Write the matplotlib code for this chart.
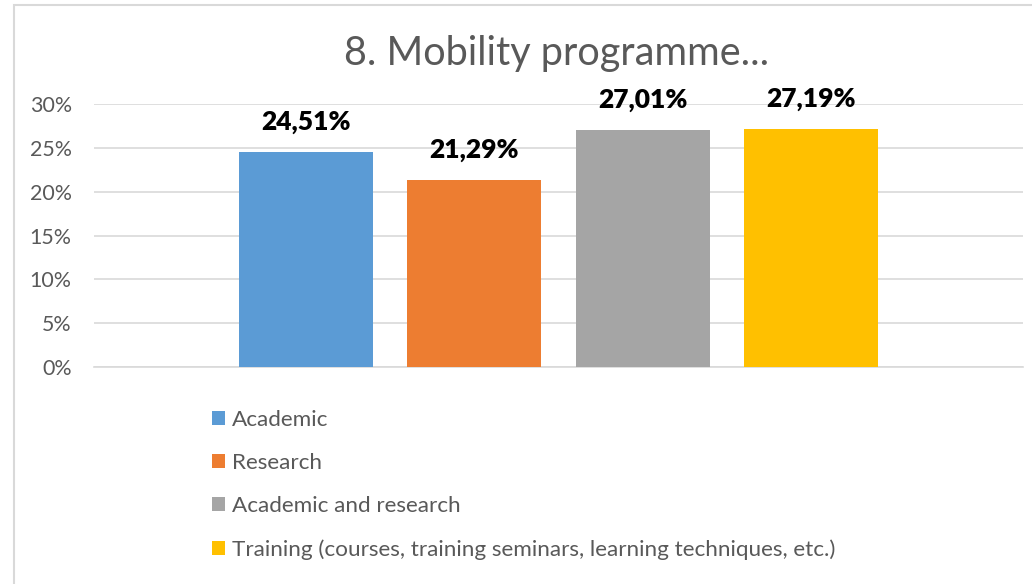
import matplotlib
matplotlib.use("Agg")
import matplotlib.pyplot as plt
from matplotlib.patches import Rectangle
from matplotlib.ticker import FuncFormatter

# ---- data ----
title = "8. Mobility programme..."
series_names = ["Academic", "Research", "Academic and research",
                "Training (courses, training seminars, learning techniques, etc.)"]
values = [24.51, 21.29, 27.01, 27.19]
value_labels = ["24,51%", "21,29%", "27,01%", "27,19%"]
colors = ["#5B9BD5", "#ED7D31", "#A5A5A5", "#FFC000"]
yticks = [0, 5, 10, 15, 20, 25, 30]

W, H = 1032, 584
plt.rcParams['font.family'] = ['Lato', 'DejaVu Sans']
fig = plt.figure(figsize=(W / 100, H / 100), dpi=100)
fig.patch.set_facecolor("white")

# outer chart border (extends past right/bottom edges)
fig.patches.append(Rectangle((13.5 / W, -0.1), 1.2, (H - 5.5) / H + 0.1,
                             transform=fig.transFigure, fill=False,
                             edgecolor="#D9D9D9", linewidth=1.5))

left, right = 94 / W, 1023 / W
bottom, top = 1 - 367 / H, 1 - 104 / H
ax = fig.add_axes([left, bottom, right - left, top - bottom])

step = 0.1812
bw = 0.1442
n = len(values)
xs = [0.5 + (i - (n - 1) / 2) * step for i in range(n)]
bars = []
for x, v, c, name in zip(xs, values, colors, series_names):
    b = ax.bar(x, v, width=bw, color=c, label=name, zorder=3)
    bars.append(b)

for x, v, lab in zip(xs, values, value_labels):
    ax.annotate(lab, (x, v), xytext=(0, 13), textcoords="offset points",
                ha="center", va="bottom", fontsize=19, fontweight="heavy",
                color="black", annotation_clip=False, zorder=5)

ax.set_xlim(0, 1)
ax.set_ylim(0, 30)
ax.set_yticks(yticks)
ax.yaxis.set_major_formatter(FuncFormatter(lambda v, p: f"{int(v)}%"))
ax.set_xticks([])
ax.tick_params(axis="y", length=0, pad=16, labelsize=15.4, labelcolor="#595959")
ax.grid(axis="y", color="#D9D9D9", linewidth=1.2, zorder=0)
for s in ["left", "right", "top"]:
    ax.spines[s].set_visible(False)
ax.spines["bottom"].set_color("#D9D9D9")
ax.spines["bottom"].set_linewidth(1.2)
ax.set_axisbelow(True)

fig.text(557 / W, 1 - 53 / H, title, ha="center", va="center",
         fontsize=28.5, color="#595959")

leg = fig.legend(handles=[b[0] for b in bars], labels=series_names,
                 loc="upper left", bbox_to_anchor=(212 / W, 1 - 410 / H),
                 frameon=False, fontsize=16.2, labelcolor="#595959",
                 handlelength=0.58, handleheight=0.58, handletextpad=0.31,
                 labelspacing=1.03, borderpad=0, borderaxespad=0)

fig.savefig("out.png", dpi=100, facecolor="white")
